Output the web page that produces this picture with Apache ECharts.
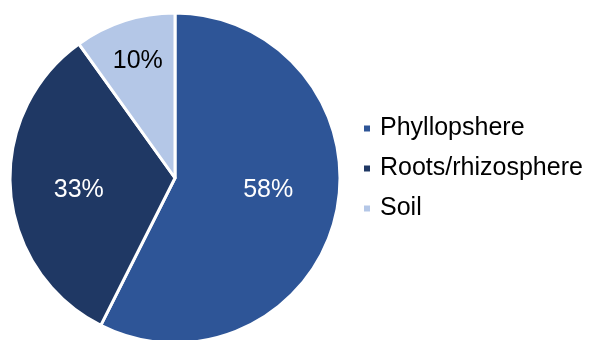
<!DOCTYPE html>
<html>
<head>
<meta charset="utf-8">
<script src="https://cdn.jsdelivr.net/npm/echarts@6/dist/echarts.min.js"></script>
<style>
  html, body { margin: 0; padding: 0; background: #fff; }
  #chart { width: 590px; height: 340px; }
</style>
</head>
<body>
<div id="chart"></div>
<script>
// Share of samples by plant compartment (percent)
const categories = ['Phyllopshere', 'Roots/rhizosphere', 'Soil'];
const shares = [58, 33, 10];
const colors = ['#2E5597', '#1F3864', '#B4C7E7'];
const labelColors = ['#ffffff', '#ffffff', '#000000'];
// nudges for the in-slice percentage labels
const labelNudges = [[10, -8], [-11, 5], [-11, -35]];

const FONT = 'Liberation Sans, Arial, sans-serif';
const chart = echarts.init(document.getElementById('chart'), null, { renderer: 'canvas' });

chart.setOption({
  animation: false,
  legend: {
    orient: 'vertical',
    left: 357,
    top: 111,
    itemWidth: 8,
    itemHeight: 8,
    itemGap: 15,
    icon: 'rect',
    textStyle: { fontFamily: FONT, fontSize: 25, color: '#000', padding: [0, 0, 0, 4] },
    data: categories
  },
  series: [{
    type: 'pie',
    center: [175, 178],
    radius: [0, 165],
    startAngle: 90,
    clockwise: true,
    avoidLabelOverlap: false,
    itemStyle: { borderColor: '#fff', borderWidth: 3 },
    label: {
      position: 'inside',
      formatter: '{c}%',
      fontFamily: FONT,
      fontSize: 25
    },
    labelLine: { show: false },
    emphasis: { disabled: true },
    data: categories.map((name, i) => ({
      name,
      value: shares[i],
      itemStyle: { color: colors[i] },
      label: { color: labelColors[i], offset: labelNudges[i] }
    }))
  }]
});
</script>
</body>
</html>
